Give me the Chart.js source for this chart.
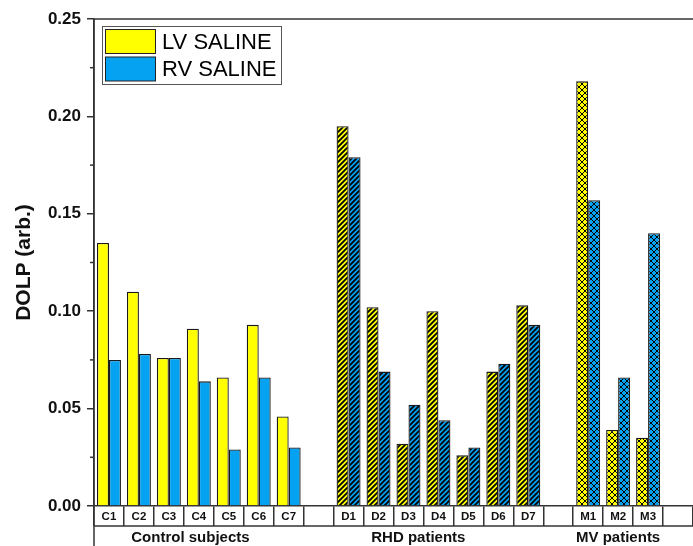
<!DOCTYPE html>
<html><head><meta charset="utf-8">
<script src="https://cdn.jsdelivr.net/npm/chart.js@4/dist/chart.umd.min.js"></script>
<style>html,body{margin:0;padding:0;background:#fff;overflow:hidden}</style>
</head><body>
<canvas id="c" width="693" height="546" style="width:693px;height:546px;display:block"></canvas>
<script>
// ---- data ----
const categories = ['C1','C2','C3','C4','C5','C6','C7','','D1','D2','D3','D4','D5','D6','D7','','M1','M2','M3',''];
const lvSaline = [0.135,0.110,0.076,0.091,0.066,0.093,0.046,null,0.195,0.102,0.032,0.100,0.026,0.069,0.103,null,0.218,0.039,0.035,null];
const rvSaline = [0.075,0.078,0.076,0.064,0.029,0.066,0.030,null,0.179,0.069,0.052,0.044,0.030,0.073,0.093,null,0.157,0.066,0.140,null];
const seriesNames = ['LV SALINE','RV SALINE'];
const groupNames = ['Control subjects','RHD patients','MV patients'];
const yTickValues = [0,0.05,0.10,0.15,0.20,0.25];

// ---- styles ----
const YELLOW = '#FFFF00', BLUE = '#05A2F2';
const FONT = "'Liberation Sans', Arial, sans-serif";
const groupLabelPos = [2.72, 10.33, 17.0]; // label centres in category units

const canvas = document.getElementById('c');
const ctx = canvas.getContext('2d');

function makePattern(color, kind){
  const s = kind === 'cross' ? 6 : 5;
  const c = document.createElement('canvas'); c.width = s; c.height = s;
  const g = c.getContext('2d');
  g.fillStyle = color; g.fillRect(0,0,s,s);
  g.strokeStyle = '#000'; g.lineWidth = kind === 'cross' ? 1.0 : 1.8;
  g.beginPath();
  g.moveTo(-1,s+1); g.lineTo(s+1,-1);
  g.moveTo(-1,1); g.lineTo(1,-1);
  g.moveTo(s-1,s+1); g.lineTo(s+1,s-1);
  if (kind === 'cross'){
    g.moveTo(-1,-1); g.lineTo(s+1,s+1);
    g.moveTo(s-1,-1); g.lineTo(s+1,1);
    g.moveTo(-1,s-1); g.lineTo(1,s+1);
  }
  g.stroke();
  return ctx.createPattern(c,'repeat');
}
function fillsFor(color){
  const diag = makePattern(color,'diag'), cross = makePattern(color,'cross');
  return categories.map(l => l.startsWith('D') ? diag : l.startsWith('M') ? cross : color);
}

const framePlugin = {
  id: 'frame',
  afterDraw(chart){
    const {ctx, chartArea:a, scales:{x, y}} = chart;
    ctx.save();
    ctx.strokeStyle = '#333'; ctx.lineWidth = 1.5;
    ctx.beginPath(); ctx.moveTo(a.left, a.top); ctx.lineTo(chart.width+20, a.top); ctx.stroke();
    ctx.beginPath(); ctx.moveTo(a.left, a.top); ctx.lineTo(a.left, chart.height); ctx.stroke();
    ctx.beginPath(); ctx.moveTo(a.left, a.bottom+20); ctx.lineTo(chart.width+20, a.bottom+20); ctx.stroke();
    for (let i = 0; i < yTickValues.length-1; i++){
      const v = (yTickValues[i]+yTickValues[i+1])/2;
      const py = y.getPixelForValue(v);
      ctx.beginPath(); ctx.moveTo(a.left-4, py); ctx.lineTo(a.left, py); ctx.stroke();
    }
    ctx.fillStyle = '#111';
    ctx.font = 'bold 15px ' + FONT;
    ctx.textAlign = 'center'; ctx.textBaseline = 'middle';
    groupNames.forEach((g,i) => ctx.fillText(g, x.getPixelForValue(groupLabelPos[i]), a.bottom+31.5));
    ctx.lineWidth = 1; ctx.strokeStyle = '#555';
    ctx.strokeRect(102.5, 26.5, 179, 58);
    const cols = [YELLOW, BLUE];
    ctx.font = '22px ' + FONT; ctx.textAlign = 'left';
    chart.data.datasets.forEach((d,i) => {
      const top = 29.5 + i*27.5;
      ctx.fillStyle = cols[i]; ctx.fillRect(105.5, top, 50, 24);
      ctx.strokeStyle = '#222'; ctx.strokeRect(105.5, top, 50, 24);
      ctx.fillStyle = '#000'; ctx.fillText(d.label, 162, top+13);
    });
    ctx.restore();
  }
};

new Chart(canvas, {
  type: 'bar',
  data: {
    labels: categories,
    datasets: [
      {label: seriesNames[0], data: lvSaline, backgroundColor: fillsFor(YELLOW), borderColor: '#1a1a1a', borderWidth: 1.3},
      {label: seriesNames[1], data: rvSaline, backgroundColor: fillsFor(BLUE), borderColor: '#1a1a1a', borderWidth: 1.3}
    ]
  },
  options: {
    responsive: false, animation: false, devicePixelRatio: 1,
    layout: {padding: {left: 12, top: 19, right: -12, bottom: 0}},
    datasets: {bar: {categoryPercentage: 0.8, barPercentage: 1.0}},
    plugins: {legend: {display: false}, tooltip: {enabled: false}},
    scales: {
      x: {
        afterFit(axis){ axis.height = 40; },
        grid: {offset: true, drawOnChartArea: false, drawTicks: true, tickLength: 20, color: '#333', lineWidth: 1.5},
        border: {display: true, color: '#333', width: 1.5},
        ticks: {autoSkip: false, maxRotation: 0, padding: -16, color: '#111', font: {family: FONT, size: 11.5, weight: 'bold'}}
      },
      y: {
        min: 0, max: 0.25,
        afterFit(axis){ axis.width = 82; },
        afterBuildTicks(axis){ axis.ticks = yTickValues.map(v => ({value: v})); },
        grid: {drawOnChartArea: false, drawTicks: true, tickLength: 7, color: '#333', lineWidth: 1.5},
        border: {display: true, color: '#333', width: 1.5},
        ticks: {padding: 6, color: '#111', font: {family: FONT, size: 17, weight: 'bold'}, callback: v => Number(v).toFixed(2)},
        title: {display: true, text: 'DOLP (arb.)', padding: 0, color: '#111', font: {family: FONT, size: 21, weight: 'bold'}}
      }
    }
  },
  plugins: [framePlugin]
});
</script>
</body></html>
